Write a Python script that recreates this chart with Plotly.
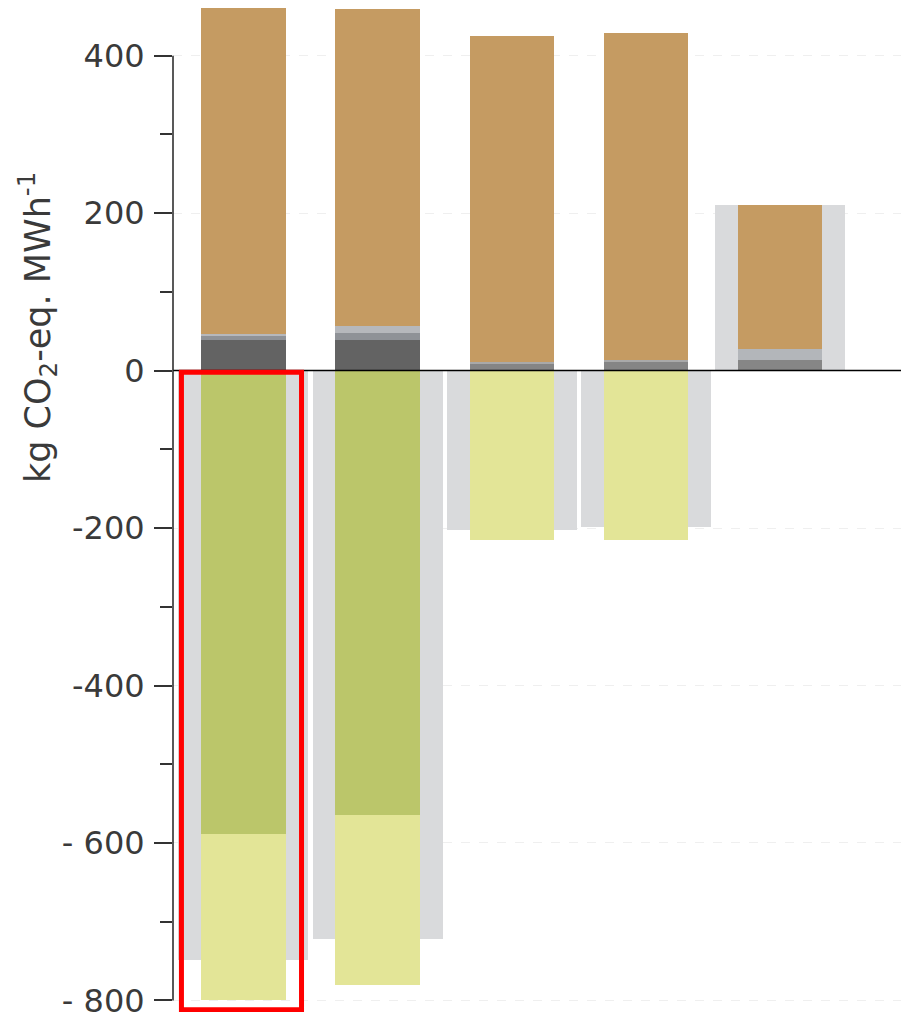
import numpy as np
import plotly.graph_objects as go

# ---- data (kg CO2-eq. MWh^-1) ----
scenarios = ["S1", "S2", "S3", "S4", "S5"]
dark_part = [39, 39, 9, 11, 14]
mid_part = [5, 9, 0, 0, 0]
light_part = [3, 9, 2, 3, 13]
brown_part = [415, 402, 414, 415, 183]
green_part = [-589, -565, 0, 0, 0]
yellow_part = [-211, -216, -215, -215, 0]
net_total = [-749, -722, -202, -199, 210]

tick_vals = [-800, -600, -400, -200, 0, 200, 400]
tick_text = ["- 800", "- 600", "-400", "-200", "0", "200", "400"]

# ---- styles ----
dark_colors = ["#636363", "#636363", "#858585", "#858585", "#868686"]
mid_color = "#8f9297"
light_colors = ["#b6b8bc", "#b6b8bc", "#a9a9a9", "#a9a9a9", "#b3b6ba"]
brown = "#c59b62"
green = "#bbc66a"
yellow = "#e3e597"
bg_gray = "#d9dadc"
txt = "#3a3a3a"
FONT = "DejaVu Sans"

x = np.arange(len(scenarios))
W_BG = 0.97
W_FG = 0.627

fig = go.Figure()

# background (net) bars
fig.add_trace(go.Bar(x=x, y=net_total, width=W_BG, marker=dict(color=bg_gray, line=dict(width=0)),
                     hoverinfo="skip", showlegend=False))

# positive stack
base = np.zeros(len(x))
for vals, col in [(dark_part, dark_colors), (mid_part, mid_color), (light_part, light_colors), (brown_part, brown)]:
    v = np.array(vals, dtype=float)
    fig.add_trace(go.Bar(x=x, y=v, base=base.copy(), width=W_FG,
                         marker=dict(color=col, line=dict(width=0)), showlegend=False))
    base = base + v

# negative stack
base = np.zeros(len(x))
for vals, col in [(green_part, green), (yellow_part, yellow)]:
    v = np.array(vals, dtype=float)
    fig.add_trace(go.Bar(x=x, y=v, base=base.copy(), width=W_FG,
                         marker=dict(color=col, line=dict(width=0)), showlegend=False))
    base = base + v

# zero line (above bars)
fig.add_shape(type="line", xref="paper", x0=0, x1=1, yref="y", y0=0, y1=0,
              line=dict(color="black", width=1.5), layer="above")
# y axis line spanning the tick range
fig.add_shape(type="line", xref="paper", x0=0, x1=0, yref="y", y0=min(tick_vals), y1=max(tick_vals),
              line=dict(color="#222222", width=1.5), layer="above")
# red highlight rectangle around the first scenario
fig.add_shape(type="rect", xref="x", yref="y", x0=-0.463, x1=0.433, y0=-2, y1=-812,
              line=dict(color="#ff0000", width=5), fillcolor="rgba(0,0,0,0)", layer="above")

fig.add_annotation(text="kg CO<sub>2</sub>-eq. MWh<sup>-1</sup>", textangle=-90,
                   xref="paper", yref="paper", x=-0.1834, y=0.6838, xanchor="center", yanchor="middle",
                   showarrow=False, font=dict(family=FONT, size=35, color=txt))

# the page adds an 8px body margin; the figure extends a little past the window bottom
fig.update_layout(
    width=901, height=1012,
    margin=dict(l=165, r=0, t=0, b=0),
    paper_bgcolor="white", plot_bgcolor="white",
    barmode="overlay", bargap=0,
    xaxis=dict(range=[-0.526, 4.966], visible=False),
    yaxis=dict(range=[-824.9, 460.6], tickvals=tick_vals, ticktext=tick_text,
               ticks="outside", ticklen=18, tickwidth=1.5, tickcolor="#333333",
               ticklabelstandoff=3,
               tickfont=dict(family=FONT, size=32, color=txt),
               showline=False, zeroline=False,
               showgrid=True, gridcolor="#efefef", griddash="dash", gridwidth=1,
               minor=dict(dtick=100, tick0=0, ticks="outside", ticklen=12, tickwidth=1.5,
                          tickcolor="#333333", showgrid=False)),
)

fig.write_html("out.html")
